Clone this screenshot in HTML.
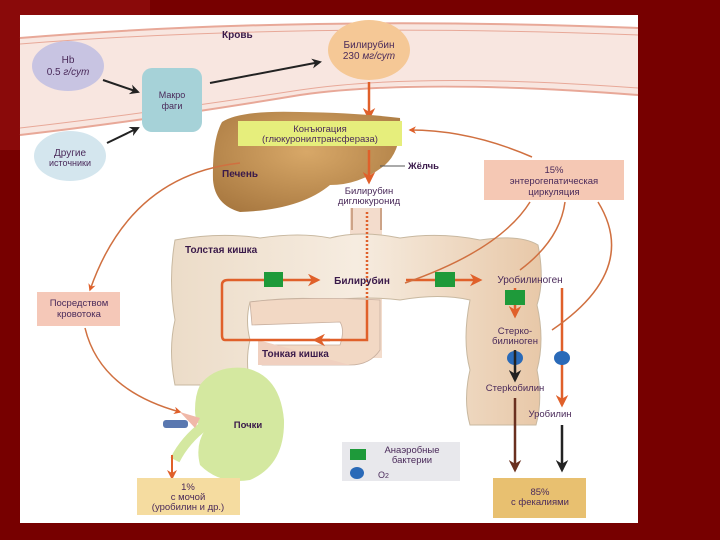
<!DOCTYPE html>
<html><head><meta charset="utf-8"><style>
html,body{margin:0;padding:0;background:#770000;}
svg{display:block;}
text{font-family:"Liberation Sans","DejaVu Sans",sans-serif;fill:#4a2a5a;}
.b{font-weight:bold;fill:#3a1a4a;}
</style></head><body>
<svg width="720" height="540" viewBox="0 0 720 540" xmlns="http://www.w3.org/2000/svg">
<defs>
<marker id="ar" viewBox="0 0 10 10" refX="8" refY="5" markerWidth="5" markerHeight="5" orient="auto"><path d="M0,0 L10,5 L0,10 L3,5 z" fill="#e0602a"/></marker>
<marker id="ak" viewBox="0 0 10 10" refX="8" refY="5" markerWidth="5" markerHeight="5" orient="auto"><path d="M0,0 L10,5 L0,10 L3,5 z" fill="#222"/></marker>
<marker id="ab" viewBox="0 0 10 10" refX="8" refY="5" markerWidth="5" markerHeight="5" orient="auto"><path d="M0,0 L10,5 L0,10 L3,5 z" fill="#6a3020"/></marker>
<radialGradient id="liv" cx="0.5" cy="0.4" r="0.7"><stop offset="0" stop-color="#d8a868"/><stop offset="1" stop-color="#a87840"/></radialGradient>
<linearGradient id="int" x1="0" y1="0" x2="1" y2="0"><stop offset="0" stop-color="#ecdcc8"/><stop offset="0.5" stop-color="#f6ece0"/><stop offset="1" stop-color="#e8c8a8"/></linearGradient>
</defs>
<rect x="0" y="0" width="720" height="540" fill="#770000"/>
<rect x="0" y="0" width="150" height="150" fill="#8a0a0a"/>
<rect x="20" y="15" width="618" height="508" fill="#ffffff"/>
<!-- vessel -->
<path d="M20,38 Q300,15 638,28 L638,95 Q420,75 300,95 Q150,120 20,135 Z" fill="#f8e6e0"/>
<path d="M20,38 Q300,15 638,28" stroke="#e8a898" stroke-width="2" fill="none"/>
<path d="M20,44 Q300,22 638,35" stroke="#e8a898" stroke-width="1" fill="none"/>
<path d="M20,128 Q150,113 300,90 Q420,72 638,88" stroke="#e8a898" stroke-width="1" fill="none"/>
<path d="M20,135 Q150,120 300,95 Q420,78 638,95" stroke="#e8a898" stroke-width="2" fill="none"/>
<text x="222" y="38" font-size="10" class="b">Кровь</text>
<ellipse cx="68" cy="66" rx="36" ry="25" fill="#c8c4e2"/>
<text x="68" y="63" font-size="10" text-anchor="middle">Hb</text>
<text x="68" y="75" font-size="10" text-anchor="middle">0.5 <tspan font-style="italic">г/сут</tspan></text>
<rect x="142" y="68" width="60" height="64" rx="10" fill="#a6d2d8"/>
<text x="172" y="98" font-size="9" text-anchor="middle">Макро</text>
<text x="172" y="109" font-size="9" text-anchor="middle">фаги</text>
<ellipse cx="70" cy="156" rx="36" ry="25" fill="#d4e6ee"/>
<text x="70" y="156" font-size="10" text-anchor="middle">Другие</text>
<text x="70" y="166" font-size="9" text-anchor="middle">источники</text>
<line x1="103" y1="80" x2="138" y2="92" stroke="#222" stroke-width="2" marker-end="url(#ak)"/>
<line x1="107" y1="143" x2="138" y2="128" stroke="#222" stroke-width="2" marker-end="url(#ak)"/>
<line x1="210" y1="83" x2="320" y2="62" stroke="#222" stroke-width="2" marker-end="url(#ak)"/>
<ellipse cx="369" cy="50" rx="41" ry="30" fill="#f5c896"/>
<text x="369" y="48" font-size="10" text-anchor="middle">Билирубин</text>
<text x="369" y="59" font-size="10" text-anchor="middle">230 <tspan font-style="italic">мг/сут</tspan></text>
<line x1="369" y1="82" x2="369" y2="118" stroke="#e0602a" stroke-width="2.5" marker-end="url(#ar)"/>
<!-- liver -->
<path d="M222,122 Q240,110 300,112 Q360,113 400,118 Q402,150 385,165 Q360,185 330,185 Q300,210 240,212 Q215,205 213,180 Q212,140 222,122 Z" fill="url(#liv)"/>
<rect x="238" y="121" width="164" height="25" fill="#e6ee7c"/>
<text x="320" y="132" font-size="9.5" text-anchor="middle" fill="#333">Конъюгация</text>
<text x="320" y="142" font-size="9.5" text-anchor="middle" fill="#333">(глюкуронилтрансфераза)</text>
<text x="222" y="177" font-size="10" class="b">Печень</text>
<line x1="369" y1="150" x2="369" y2="182" stroke="#e0602a" stroke-width="2.5" marker-end="url(#ar)"/>
<line x1="380" y1="166" x2="405" y2="166" stroke="#555" stroke-width="1"/>
<text x="408" y="169" font-size="9.5" class="b">Жёлчь</text>
<text x="369" y="194" font-size="9.5" text-anchor="middle" fill="#333">Билирубин</text>
<text x="369" y="204" font-size="9.5" text-anchor="middle" fill="#333">диглюкуронид</text>
<!-- ducts -->
<rect x="350" y="208" width="32" height="150" fill="#f3dccc"/>
<line x1="352" y1="208" x2="352" y2="230" stroke="#c09070" stroke-width="1.5"/>
<line x1="381" y1="208" x2="381" y2="230" stroke="#c09070" stroke-width="1.5"/>
<!-- large intestine -->
<path d="M175,240 Q220,232 260,238 Q300,232 330,238 Q360,230 400,238 Q440,232 480,240 Q520,234 538,245 Q545,280 537,305 Q545,340 537,370 Q543,400 536,425 L470,425 Q463,400 470,370 Q462,340 470,300 Q440,293 400,300 Q370,296 330,300 Q300,296 250,302 Q245,320 250,340 Q245,360 250,385 L175,385 Q168,350 175,320 Q168,280 175,240 Z" fill="url(#int)" stroke="#c8b8a0" stroke-width="1"/>
<!-- small intestine -->
<path d="M250,302 Q300,296 380,300 L380,350 Q370,365 350,365 L262,365 Q255,355 262,345 L340,345 Q345,330 340,322 L252,325 Z" fill="#f2d8c4" stroke="#c8b0a0" stroke-width="0.8"/>
<path d="M258,340 L258,365 L350,365" fill="#f0d0c0"/>
<text x="185" y="253" font-size="10" class="b">Толстая кишка</text>
<text x="262" y="357" font-size="10" class="b">Тонкая кишка</text>
<line x1="367" y1="212" x2="367" y2="300" stroke="#e0602a" stroke-width="2.5" stroke-dasharray="2,2"/>
<line x1="367" y1="300" x2="367" y2="330" stroke="#e0602a" stroke-width="2.5"/>
<path d="M367,330 L367,340 Q367,340 360,340 L225,340 Q222,340 222,335 L222,285 Q222,280 228,280 L318,280" stroke="#e0602a" stroke-width="2.5" fill="none" marker-end="url(#ar)"/>
<line x1="330" y1="340" x2="315" y2="340" stroke="#e0602a" stroke-width="2.5" marker-end="url(#ar)"/>
<rect x="264" y="272" width="19" height="15" fill="#1e9a3a"/>
<text x="362" y="284" font-size="10" text-anchor="middle" class="b">Билирубин</text>
<line x1="406" y1="280" x2="480" y2="280" stroke="#e0602a" stroke-width="2.5" marker-end="url(#ar)"/>
<rect x="435" y="272" width="20" height="15" fill="#1e9a3a"/>
<text x="530" y="283" font-size="10" text-anchor="middle">Уробилиноген</text>
<line x1="515" y1="288" x2="515" y2="316" stroke="#e0602a" stroke-width="2.5" marker-end="url(#ar)"/>
<rect x="505" y="290" width="20" height="15" fill="#1e9a3a"/>
<line x1="562" y1="288" x2="562" y2="405" stroke="#e0602a" stroke-width="2.5" marker-end="url(#ar)"/>
<text x="515" y="334" font-size="9.5" text-anchor="middle">Стерко-</text>
<text x="515" y="344" font-size="9.5" text-anchor="middle">билиноген</text>
<ellipse cx="515" cy="358" rx="8" ry="7" fill="#2a6ab8"/>
<ellipse cx="562" cy="358" rx="8" ry="7" fill="#2a6ab8"/>
<line x1="515" y1="350" x2="515" y2="380" stroke="#222" stroke-width="2.5" marker-end="url(#ak)"/>
<text x="515" y="391" font-size="9.5" text-anchor="middle">Стерkобилин</text>
<text x="550" y="417" font-size="9.5" text-anchor="middle">Уробилин</text>
<line x1="515" y1="398" x2="515" y2="470" stroke="#6a3020" stroke-width="2.5" marker-end="url(#ab)"/>
<line x1="562" y1="425" x2="562" y2="470" stroke="#222" stroke-width="2.5" marker-end="url(#ak)"/>
<!-- enterohepatic -->
<rect x="484" y="160" width="140" height="40" fill="#f5c8b4"/>
<text x="554" y="173" font-size="9.5" text-anchor="middle">15%</text>
<text x="554" y="184" font-size="9.5" text-anchor="middle">энтерогепатическая</text>
<text x="554" y="195" font-size="9.5" text-anchor="middle">циркуляция</text>
<path d="M532,157 Q470,130 410,130" stroke="#d07040" stroke-width="1.5" fill="none" marker-end="url(#ar)"/>
<path d="M530,202 Q500,250 405,283" stroke="#d07040" stroke-width="1.5" fill="none"/>
<path d="M565,202 Q560,240 520,270" stroke="#d07040" stroke-width="1.5" fill="none"/>
<path d="M598,202 Q640,270 552,330" stroke="#d07040" stroke-width="1.5" fill="none"/>
<!-- via blood -->
<path d="M240,163 Q130,175 90,290" stroke="#d07040" stroke-width="1.5" fill="none" marker-end="url(#ar)"/>
<rect x="37" y="292" width="83" height="34" fill="#f5c8b8"/>
<text x="79" y="306" font-size="9.5" text-anchor="middle">Посредством</text>
<text x="79" y="317" font-size="9.5" text-anchor="middle">кровотока</text>
<path d="M85,328 Q100,390 180,412" stroke="#d07040" stroke-width="1.5" fill="none" marker-end="url(#ar)"/>
<!-- kidney -->
<path d="M200,385 Q215,365 245,368 Q280,375 284,420 Q285,465 250,480 Q220,485 200,465 Q195,445 205,430 Q195,425 195,410 Q195,395 200,385 Z" fill="#d4e8a0"/>
<path d="M205,425 Q185,440 175,460" stroke="#d4e8a0" stroke-width="10" fill="none"/>
<rect x="163" y="420" width="25" height="8" rx="3" fill="#5a78b0"/>
<path d="M180,412 L200,418 L195,428 Z" fill="#f0b8a8"/>
<text x="248" y="428" font-size="9.5" text-anchor="middle" class="b">Почки</text>
<line x1="172" y1="455" x2="172" y2="478" stroke="#e0602a" stroke-width="2" marker-end="url(#ar)"/>
<rect x="137" y="478" width="103" height="37" fill="#f5dca0"/>
<text x="188" y="490" font-size="9.5" text-anchor="middle">1%</text>
<text x="188" y="500" font-size="9.5" text-anchor="middle">с мочой</text>
<text x="188" y="510" font-size="9.5" text-anchor="middle">(уробилин и др.)</text>
<!-- legend -->
<rect x="342" y="442" width="118" height="39" fill="#e8e8ec"/>
<rect x="350" y="449" width="16" height="11" fill="#1e9a3a"/>
<ellipse cx="357" cy="473" rx="7" ry="6" fill="#2a6ab8"/>
<text x="412" y="453" font-size="9.5" text-anchor="middle">Анаэробные</text>
<text x="412" y="463" font-size="9.5" text-anchor="middle">бактерии</text>
<text x="378" y="478" font-size="9">O<tspan font-size="7">2</tspan></text>
<rect x="493" y="478" width="93" height="40" fill="#e8c070"/>
<text x="540" y="495" font-size="9.5" text-anchor="middle">85%</text>
<text x="540" y="505" font-size="9.5" text-anchor="middle">с фекалиями</text>
</svg>
</body></html>
